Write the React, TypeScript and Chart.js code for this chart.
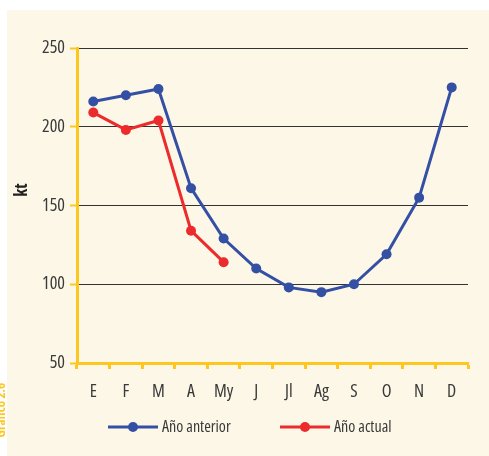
import { useEffect, useRef } from "react";
import { Chart, registerables } from "chart.js";

Chart.register(...registerables);

const months = ["E", "F", "M", "A", "My", "J", "Jl", "Ag", "S", "O", "N", "D"];
const prevYear = [216, 220, 224, 161, 129, 110, 98, 95, 100, 119, 155, 225];
const currYear = [209, 198, 204, 134, 114];
const yTicks = [50, 100, 150, 200, 250];
const seriesLabels = ["Año anterior", "Año actual"];
const yTitle = "kt";
const sideNote = "Gráfico 2.6";

const FONT = "'Open Sans', 'DejaVu Sans Condensed', sans-serif";
const TEXT = "#3a3a3a";
const YELLOW = "#fcc820";
const BLUE = "#3450a4";
const RED = "#ec2c2c";
const CREAM = "#fdf7e7";

const decorPlugin = {
  id: "decor",
  beforeDraw(chart: any) {
    const ctx = chart.ctx;
    ctx.save();
    ctx.fillStyle = "#ffffff";
    ctx.fillRect(0, 0, chart.width, chart.height);
    ctx.fillStyle = CREAM;
    ctx.fillRect(7, 10, chart.width - 7, chart.height - 10);
    ctx.restore();
  },
  afterDraw(chart: any) {
    const ctx = chart.ctx;
    ctx.save();
    // y title
    ctx.fillStyle = "#222";
    ctx.font = `condensed bold 17px ${FONT}`;
    ctx.textAlign = "center";
    ctx.textBaseline = "middle";
    ctx.translate(22, 190);
    ctx.rotate(-Math.PI / 2);
    ctx.fillText(yTitle, 0, 0);
    ctx.restore();

    // side note (partly outside the page, as in the source)
    ctx.save();
    ctx.fillStyle = YELLOW;
    ctx.font = `condensed bold 13px ${FONT}`;
    ctx.textAlign = "right";
    ctx.textBaseline = "alphabetic";
    ctx.translate(5, 383);
    ctx.rotate(-Math.PI / 2);
    ctx.fillText(sideNote, 0, 0);
    ctx.restore();

    // legend
    const items = chart.data.datasets.map((d: any, i: number) => ({
      label: d.label,
      color: d.borderColor,
      x: i === 0 ? 108 : 280,
    }));
    ctx.save();
    const ly = 427;
    items.forEach((it: any) => {
      ctx.strokeStyle = it.color;
      ctx.lineWidth = 3;
      ctx.beginPath();
      ctx.moveTo(it.x, ly);
      ctx.lineTo(it.x + 50, ly);
      ctx.stroke();
      ctx.fillStyle = it.color;
      ctx.beginPath();
      ctx.arc(it.x + 25, ly, 5, 0, Math.PI * 2);
      ctx.fill();
      ctx.fillStyle = TEXT;
      ctx.font = `condensed 16px ${FONT}`;
      ctx.textAlign = "left";
      ctx.textBaseline = "middle";
      ctx.fillText(it.label, it.x + 54, ly);
    });
    ctx.restore();
  },
};

export default function App() {
  const ref = useRef<HTMLCanvasElement>(null);
  useEffect(() => {
    if (!ref.current) return;
    const chart = new Chart(ref.current, {
      type: "line",
      data: {
        labels: months,
        datasets: [
          {
            label: seriesLabels[0],
            data: prevYear,
            borderColor: BLUE,
            backgroundColor: BLUE,
            borderWidth: 3,
            pointRadius: 5,
            pointHoverRadius: 5,
            pointBorderWidth: 0,
          },
          {
            label: seriesLabels[1],
            data: currYear,
            borderColor: RED,
            backgroundColor: RED,
            borderWidth: 3,
            pointRadius: 5,
            pointHoverRadius: 5,
            pointBorderWidth: 0,
          },
        ],
      },
      plugins: [decorPlugin],
      options: {
        animation: false,
        responsive: false,
        devicePixelRatio: 1,
        layout: { padding: { left: 0, top: 48, right: 21, bottom: 0 } },
        plugins: { legend: { display: false }, tooltip: { enabled: false } },
        scales: {
          x: {
            offset: true,
            afterFit: (s: any) => {
              s.height = 93;
            },
            grid: {
              offset: true,
              drawOnChartArea: false,
              drawTicks: true,
              tickLength: 6,
              tickColor: YELLOW,
              tickWidth: 3,
            },
            border: { color: YELLOW, width: 3 },
            ticks: {
              color: TEXT,
              padding: 12,
              font: { family: FONT, size: 18, weight: "condensed" as any },
              maxRotation: 0,
              autoSkip: false,
            },
          },
          y: {
            min: 50,
            max: 250,
            afterFit: (s: any) => {
              s.width = 77;
            },
            afterBuildTicks: (s: any) => {
              s.ticks = yTicks.map((v) => ({ value: v }));
            },
            grid: {
              color: (c: any) => (c.tick && c.tick.value === 50 ? "rgba(0,0,0,0)" : "#333333"),
              lineWidth: 1,
              drawTicks: true,
              tickLength: 7,
              tickColor: YELLOW,
              tickWidth: 2,
            },
            border: { color: YELLOW, width: 3 },
            ticks: {
              color: TEXT,
              padding: 5,
              font: { family: FONT, size: 18, weight: "condensed" as any },
            },
          },
        },
      },
    });
    return () => chart.destroy();
  }, []);
  return (
    <div style={{ position: "fixed", left: 0, top: 0, width: 489, height: 456 }}>
      <canvas ref={ref} width={489} height={456} style={{ display: "block", width: 489, height: 456 }} />
    </div>
  );
}
